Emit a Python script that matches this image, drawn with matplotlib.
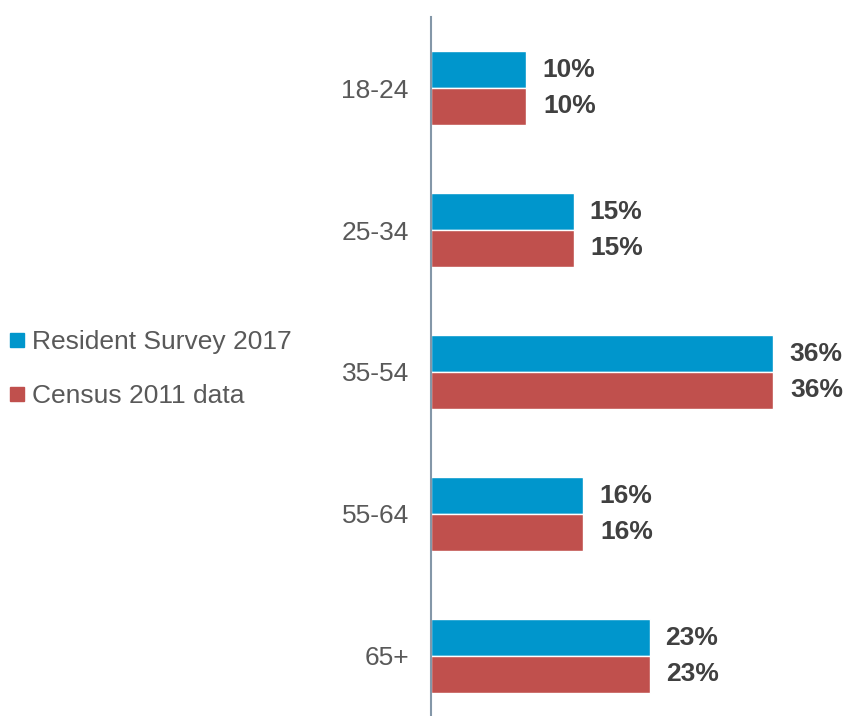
import matplotlib
matplotlib.use("Agg")
import matplotlib.pyplot as plt
from matplotlib.lines import Line2D
import numpy as np

plt.rcParams['font.family'] = ['Liberation Sans', 'DejaVu Sans']

categories = ["18-24", "25-34", "35-54", "55-64", "65+"]
survey_2017 = [10, 15, 36, 16, 23]
census_2011 = [10, 15, 36, 16, 23]
series_names = ["Resident Survey 2017", "Census 2011 data"]

blue = "#0096cc"
red = "#c0504d"
text_dark = "#404040"
text_gray = "#595959"
axis_color = "#8497a8"

W, H, DPI = 846, 716, 100
fig = plt.figure(figsize=(W / DPI, H / DPI), dpi=DPI)
left_px = 431
ax = fig.add_axes([left_px / W, 0, (W - left_px) / W, 1 - 17 / H])

y = np.arange(len(categories))
bh = 0.26
ax.barh(y - bh / 2, survey_2017, height=bh, color=blue, edgecolor="white", linewidth=1.0)
ax.barh(y + bh / 2, census_2011, height=bh, color=red, edgecolor="white", linewidth=1.0)

fs = 19
for yi, v in zip(y, survey_2017):
    ax.annotate(f"{v}%", (v, yi - bh / 2), xytext=(16, 0), textcoords="offset pixels",
                va="center", ha="left", fontsize=fs, fontweight="bold", color=text_dark)
for yi, v in zip(y, census_2011):
    ax.annotate(f"{v}%", (v, yi + bh / 2), xytext=(17, 0), textcoords="offset pixels",
                va="center", ha="left", fontsize=fs, fontweight="bold", color=text_dark)

ax.set_xlim(0, (W - left_px) / 9.5)
ax.set_ylim((716 - 88) / 142, -0.5)
ax.set_yticks(y)
ax.set_yticklabels(categories, fontsize=fs, color=text_gray)
ax.tick_params(axis="y", length=0, pad=16)
ax.set_xticks([])
for s in ["top", "right", "bottom"]:
    ax.spines[s].set_visible(False)
ax.spines["left"].set_color(axis_color)
ax.spines["left"].set_linewidth(1.5)

handles = [Line2D([], [], marker="s", linestyle="none", markersize=10, color=c)
           for c in (blue, red)]
fig.legend(handles, series_names, loc="center left", bbox_to_anchor=(5 / W - 0.004, 1 - 369 / H),
           frameon=False, fontsize=fs, labelcolor=text_gray, handlelength=0.55,
           handletextpad=0.3, labelspacing=1.15, borderaxespad=0, borderpad=0.3)

fig.savefig("out.png", dpi=DPI)
